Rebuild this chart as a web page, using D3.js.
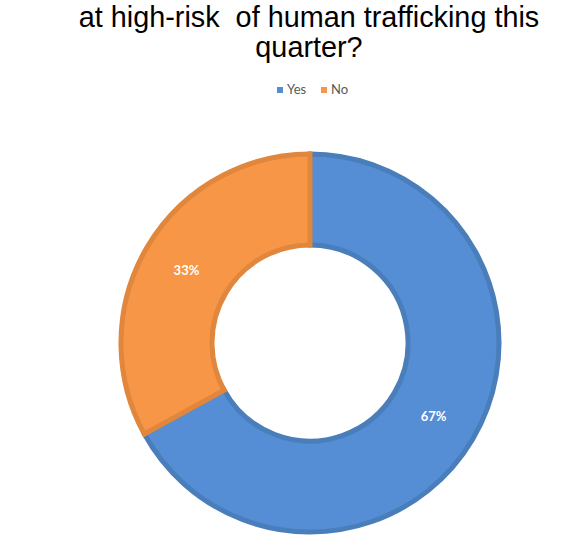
<!DOCTYPE html>
<html>
<head>
<meta charset="utf-8">
<script src="https://cdn.jsdelivr.net/npm/d3@7"></script>
<style>
  html, body { margin: 0; padding: 0; background: #fff; }
  svg { display: block; }
</style>
</head>
<body>
<svg id="chart" width="581" height="553"></svg>
<script>
// Survey answers and their shares (percent)
const categories = ["Yes", "No"];
const shares = [67, 33];
const titleLines = ["at high-risk  of human trafficking this", "quarter?"];

const fills = ["#558ed5", "#f79646"];
const strokes = ["#4a7ebb", "#e0863d"];

const svg = d3.select("#chart");
const cx = 310, cy = 343;
const outerR = 189, innerR = 98;

// Title
svg.append("g")
  .selectAll("text")
  .data(titleLines)
  .join("text")
  .attr("x", 309)
  .attr("y", (d, i) => 27 + i * 30)
  .attr("text-anchor", "middle")
  .attr("font-family", "Liberation Sans, Arial, sans-serif")
  .attr("font-size", 28.8)
  .attr("fill", "#000")
  .style("white-space", "pre")
  .text(d => d);

// Legend
const color = d3.scaleOrdinal().domain(categories).range(fills);
const legendX = [277, 321];
const legend = svg.append("g")
  .selectAll("g")
  .data(categories)
  .join("g")
  .attr("transform", (d, i) => `translate(${legendX[i]},87)`);
legend.append("rect")
  .attr("width", 6).attr("height", 6)
  .attr("fill", d => color(d));
legend.append("text")
  .attr("x", 10).attr("y", 7)
  .attr("font-family", "Lato, 'Open Sans', sans-serif")
  .attr("font-size", 13)
  .attr("fill", "#595959")
  .text(d => d);

// Donut
const pie = d3.pie().sort(null).value(d => d.v);
const arcs = pie(categories.map((c, i) => ({ c, v: shares[i], i })));
const arc = d3.arc().innerRadius(innerR).outerRadius(outerR);

const g = svg.append("g").attr("transform", `translate(${cx},${cy})`);
g.selectAll("path")
  .data(arcs)
  .join("path")
  .attr("d", arc)
  .attr("fill", d => fills[d.data.i])
  .attr("stroke", d => strokes[d.data.i])
  .attr("stroke-width", 5)
  .attr("stroke-linejoin", "miter");

g.selectAll("text.lbl")
  .data(arcs)
  .join("text")
  .attr("class", "lbl")
  .attr("transform", d => `translate(${arc.centroid(d)})`)
  .attr("text-anchor", "middle")
  .attr("dy", "0.35em")
  .attr("font-family", "Lato, 'Open Sans', sans-serif")
  .attr("font-weight", "bold")
  .attr("font-size", 13)
  .attr("fill", "#fff")
  .text(d => d.data.v + "%");
</script>
</body>
</html>
